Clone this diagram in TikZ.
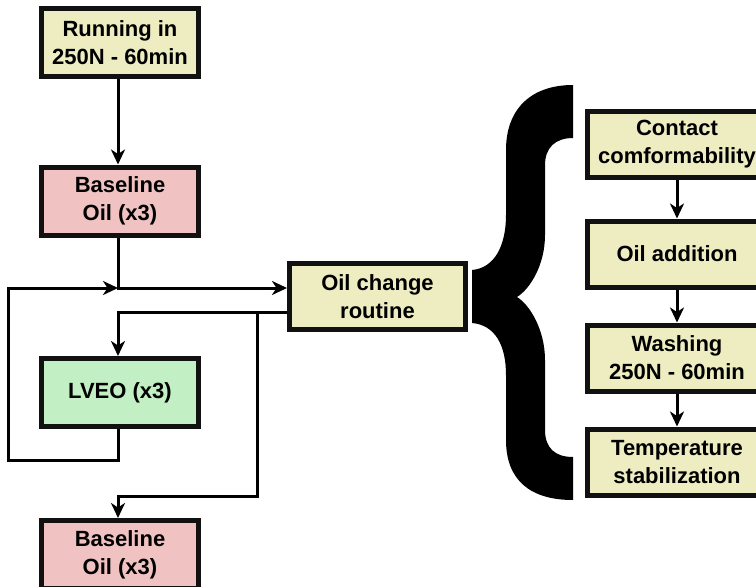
\documentclass[tikz,border=0pt]{standalone}
\usepackage{fontspec}
\setmainfont{Liberation Sans}
\usetikzlibrary{arrows.meta}

\definecolor{boxyellow}{HTML}{EEEDC1}
\definecolor{boxpink}{HTML}{F0C2C2}
\definecolor{boxgreen}{HTML}{C3EFC5}
\definecolor{boxedge}{HTML}{111111}

\begin{document}
\begin{tikzpicture}
            [x=1pt, y=-1pt,
            box/.style={rectangle, draw=boxedge, line width=5pt, align=center,
                minimum width=157pt, minimum height=68pt,
                font=\bfseries\fontsize{22}{28}\selectfont},
            wide/.style={box, minimum width=179pt, minimum height=66pt},
            arrow/.style={line width=3pt, black, -{Stealth[length=15pt, width=14pt, inset=4.5pt]}},
            link/.style={line width=3pt, black}]

            \clip (0,0) rectangle (756,587);

            \node[box, fill=boxyellow] (run) at (120,42.5) {Running in\\250N - 60min};
            \node[box, fill=boxpink] (base1) at (120,201) {Baseline\\Oil (x3)};
            \node[box, fill=boxgreen] (lveo) at (120,392.5) {LVEO (x3)};
            \node[box, fill=boxpink] (base2) at (120,554.5) {Baseline\\Oil (x3)};
            \node[box, fill=boxyellow, minimum width=176pt, minimum height=66pt] (oil) at (377.5,296.5) {Oil change\\routine};

            \node[wide, fill=boxyellow] (contact) at (677,144.5) {Contact\\comformability};
            \node[wide, fill=boxyellow] (add) at (677,254) {Oil addition};
            \node[wide, fill=boxyellow] (wash) at (677,358) {Washing\\250N - 60min};
            \node[wide, fill=boxyellow] (temp) at (677,462) {Temperature\\stabilization};

            % Junctions on the left loop
            \coordinate (join) at (118,288);
            \coordinate (split) at (257,312);

            \draw[arrow] ([xshift=-2pt]run.south) -- ([xshift=-2pt]base1.north);
            \draw[arrow] ([xshift=-2pt]base1.south) -- (join) -- ([yshift=8.5pt]oil.west);
            \draw[arrow] ([xshift=-2pt]lveo.south) -- (118,460) -| (8,288) -- (join);
            \draw[arrow] ([yshift=-15.5pt]oil.west) -| ([xshift=-2pt]lveo.north);
            \draw[arrow] (split) -- (257,496) -| ([xshift=-2pt]base2.north);

            \draw[arrow] (contact) -- (add);
            \draw[arrow] (add) -- (wash);
            \draw[arrow] (wash) -- (temp);

            % Curly brace
            \fill[black] (573,85)
                .. controls (530,85) and (506,110) .. (506,150)
                -- (506,215)
                .. controls (506,245) and (495,268) .. (472,270)
                -- (472,323)
                .. controls (495,325) and (506,345) .. (506,375)
                -- (506,440)
                .. controls (506,480) and (530,500) .. (573,500)
                -- (573,457)
                .. controls (555,457) and (545,448) .. (545,430)
                -- (545,360)
                .. controls (545,330) and (530,305) .. (517,297)
                .. controls (530,289) and (545,265) .. (545,235)
                -- (545,165)
                .. controls (545,148) and (555,138) .. (573,138)
                -- cycle;

        \end{tikzpicture}
\end{document}
